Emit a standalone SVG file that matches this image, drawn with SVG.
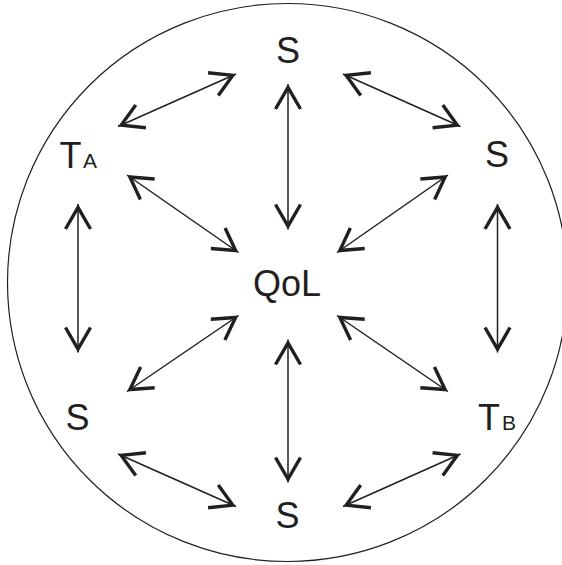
<svg xmlns="http://www.w3.org/2000/svg" xmlns:xlink="http://www.w3.org/1999/xlink" width="562" height="565" viewBox="0 0 562 565">
  <style>
    .lbl { font-family: "Liberation Sans", Arial, sans-serif; font-size: 36px; fill: #231f20; }
    .sub { font-size: 21px; }
    .con { stroke: #231f20; stroke-width: 1.5; fill: none; }
    .head { fill: none; stroke: #231f20; stroke-width: 3.4; stroke-linejoin: miter; stroke-miterlimit: 10; }
  </style>
  <defs>
    <path id="ah" class="head" d="M -25,-12.5 L -3.5,0 L -25,12.5"/>
  </defs>
  <rect width="562" height="565" fill="#ffffff"/>
  <ellipse id="boundary" cx="287.5" cy="282.5" rx="280" ry="279" fill="none" stroke="#231f20" stroke-width="1.2"/>
  <g id="connectors">
    <line class="con" x1="118" y1="126.5" x2="236" y2="74"/>
    <use href="#ah" xlink:href="#ah" transform="translate(236,74) rotate(-23.98)"/>
    <use href="#ah" xlink:href="#ah" transform="translate(118,126.5) rotate(156.02)"/>

    <line class="con" x1="343" y1="74" x2="460.5" y2="126.5"/>
    <use href="#ah" xlink:href="#ah" transform="translate(460.5,126.5) rotate(24.08)"/>
    <use href="#ah" xlink:href="#ah" transform="translate(343,74) rotate(-155.92)"/>

    <line class="con" x1="288" y1="84" x2="288" y2="229.5"/>
    <use href="#ah" xlink:href="#ah" transform="translate(288,84) rotate(-90)"/>
    <use href="#ah" xlink:href="#ah" transform="translate(288,229.5) rotate(90)"/>

    <line class="con" x1="127" y1="175" x2="238.5" y2="252.5"/>
    <use href="#ah" xlink:href="#ah" transform="translate(238.5,252.5) rotate(34.81)"/>
    <use href="#ah" xlink:href="#ah" transform="translate(127,175) rotate(-145.19)"/>

    <line class="con" x1="448" y1="175" x2="337" y2="252.5"/>
    <use href="#ah" xlink:href="#ah" transform="translate(337,252.5) rotate(145.08)"/>
    <use href="#ah" xlink:href="#ah" transform="translate(448,175) rotate(-34.92)"/>

    <line class="con" x1="78" y1="204" x2="78" y2="352.5"/>
    <use href="#ah" xlink:href="#ah" transform="translate(78,204) rotate(-90)"/>
    <use href="#ah" xlink:href="#ah" transform="translate(78,352.5) rotate(90)"/>

    <line class="con" x1="497.5" y1="204" x2="497.5" y2="352.5"/>
    <use href="#ah" xlink:href="#ah" transform="translate(497.5,204) rotate(-90)"/>
    <use href="#ah" xlink:href="#ah" transform="translate(497.5,352.5) rotate(90)"/>

    <line class="con" x1="238.5" y1="315.5" x2="127" y2="391.5"/>
    <use href="#ah" xlink:href="#ah" transform="translate(127,391.5) rotate(145.72)"/>
    <use href="#ah" xlink:href="#ah" transform="translate(238.5,315.5) rotate(-34.28)"/>

    <line class="con" x1="337" y1="315.5" x2="448" y2="391.5"/>
    <use href="#ah" xlink:href="#ah" transform="translate(448,391.5) rotate(34.40)"/>
    <use href="#ah" xlink:href="#ah" transform="translate(337,315.5) rotate(-145.60)"/>

    <line class="con" x1="288" y1="339.5" x2="288" y2="482.5"/>
    <use href="#ah" xlink:href="#ah" transform="translate(288,339.5) rotate(-90)"/>
    <use href="#ah" xlink:href="#ah" transform="translate(288,482.5) rotate(90)"/>

    <line class="con" x1="118" y1="454" x2="236" y2="506.5"/>
    <use href="#ah" xlink:href="#ah" transform="translate(236,506.5) rotate(23.98)"/>
    <use href="#ah" xlink:href="#ah" transform="translate(118,454) rotate(-156.02)"/>

    <line class="con" x1="460.5" y1="454" x2="343" y2="506.5"/>
    <use href="#ah" xlink:href="#ah" transform="translate(343,506.5) rotate(155.92)"/>
    <use href="#ah" xlink:href="#ah" transform="translate(460.5,454) rotate(-24.08)"/>
  </g>
  <g id="node-s-top"><text class="lbl" x="288" y="62.5" text-anchor="middle">S</text></g>
  <g id="node-ta"><text class="lbl" x="59.5" y="167.5">T<tspan class="sub" dx="1.5">A</tspan></text></g>
  <g id="node-s-right"><text class="lbl" x="497" y="166.5" text-anchor="middle">S</text></g>
  <g id="node-qol"><text class="lbl" x="287" y="296" text-anchor="middle">QoL</text></g>
  <g id="node-s-left"><text class="lbl" x="77.5" y="430" text-anchor="middle">S</text></g>
  <g id="node-tb"><text class="lbl" x="478" y="429.5">T<tspan class="sub" dx="2">B</tspan></text></g>
  <g id="node-s-bottom"><text class="lbl" x="287.5" y="528" text-anchor="middle">S</text></g>
</svg>
